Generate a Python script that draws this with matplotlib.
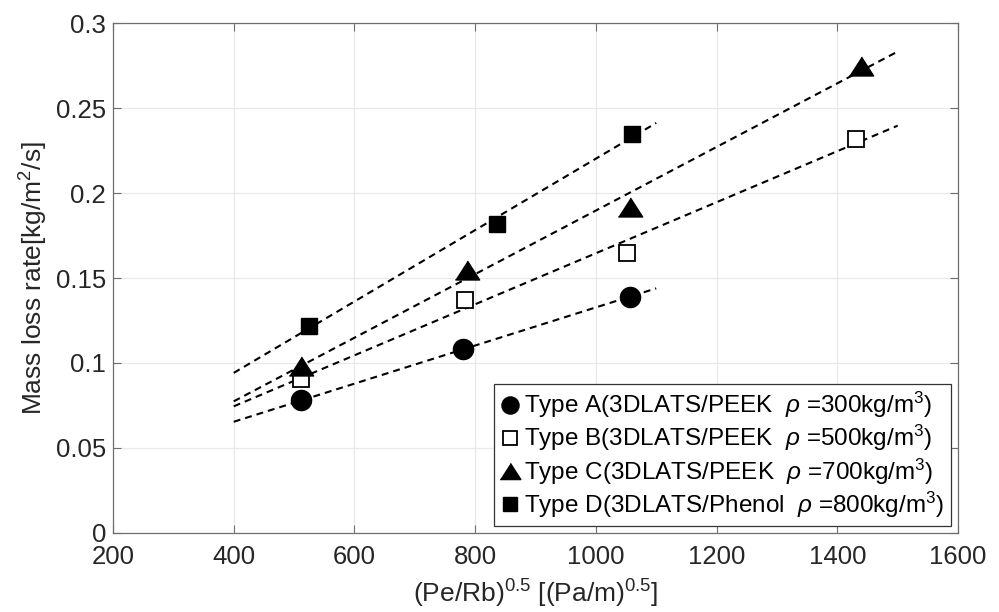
import numpy as np
import matplotlib
matplotlib.use("Agg")
import matplotlib.pyplot as plt

# ---- data ----
xA = [512, 780, 1056]
yA = [0.078, 0.108, 0.139]
xB = [511, 783, 1051, 1431]
yB = [0.0906, 0.137, 0.165, 0.232]
xC = [512, 786, 1056, 1439]
yC = [0.098, 0.155, 0.192, 0.275]
xD = [525, 836, 1060]
yD = [0.122, 0.182, 0.235]

fit_range_A = [400, 1100]
fit_range_B = [400, 1500]
fit_range_C = [400, 1500]
fit_range_D = [400, 1100]

labels = [
    r"Type A(3DLATS/PEEK  $\rho$ =300kg/m$^3$)",
    r"Type B(3DLATS/PEEK  $\rho$ =500kg/m$^3$)",
    r"Type C(3DLATS/PEEK  $\rho$ =700kg/m$^3$)",
    r"Type D(3DLATS/Phenol  $\rho$ =800kg/m$^3$)",
]
xticks = [200, 400, 600, 800, 1000, 1200, 1400, 1600]
yticks = [0, 0.05, 0.1, 0.15, 0.2, 0.25, 0.3]
yticklabels = ["0", "0.05", "0.1", "0.15", "0.2", "0.25", "0.3"]

plt.rcParams['font.family'] = ['Liberation Sans', 'DejaVu Sans']
plt.rcParams['mathtext.fontset'] = 'custom'
plt.rcParams['mathtext.rm'] = 'Liberation Sans'
plt.rcParams['mathtext.it'] = 'Liberation Sans:italic'
plt.rcParams['lines.scale_dashes'] = False

fig = plt.figure(figsize=(9.99, 6.12), dpi=100)
ax = fig.add_axes([0.1131, 0.1291, 0.959 - 0.1131, 0.9624 - 0.1291])

tri = [(-1, -0.78), (1, -0.78), (0, 0.78)]
series = [
    (xA, yA, fit_range_A, dict(marker='o', ms=14.5, mfc='black', mec='black')),
    (xB, yB, fit_range_B, dict(marker='s', ms=11.5, mfc='white', mec='black', mew=1.3)),
    (xC, yC, fit_range_C, dict(marker=tri, ms=17.5, mfc='black', mec='black')),
    (xD, yD, fit_range_D, dict(marker='s', ms=11.5, mfc='black', mec='black')),
]

handles = []
for (xs, ys, rng, mk), lab in zip(series, labels):
    p = np.polyfit(xs, ys, 1)
    xf = np.array(rng, dtype=float)
    ax.plot(xf, np.polyval(p, xf), color='black', lw=1.5, ls=(0, (5, 3.6)), zorder=2)
    h, = ax.plot(xs, ys, ls='none', zorder=3, label=lab, **mk)
    handles.append(h)

ax.set_xlim(200, 1600)
ax.set_ylim(0, 0.3)
ax.set_xticks(xticks)
ax.set_xticklabels([str(t) for t in xticks])
ax.set_yticks(yticks)
ax.set_yticklabels(yticklabels)
ax.grid(True, color='#e8e8e8', lw=0.9)
ax.set_axisbelow(True)
for s in ax.spines.values():
    s.set_color('#6e6e6e')
    s.set_linewidth(0.9)
ax.tick_params(direction='in', length=6, width=0.8, color='#6e6e6e',
               labelsize=18.5, labelcolor='#262626', top=True, right=True)
ax.tick_params(axis='x', pad=9)
ax.tick_params(axis='y', pad=5)

ax.set_ylabel(r"Mass loss rate[kg/m$^2$/s]", fontsize=19, color='#262626', labelpad=4)
ax.set_xlabel(r"(Pe/Rb)$^{0.5}$ [(Pa/m)$^{0.5}$]", fontsize=19, color='#262626', labelpad=6)

leg = ax.legend(handles=handles, loc='lower right', fontsize=17.5, frameon=True,
                fancybox=False, edgecolor='#333333', framealpha=1,
                handlelength=0.8, handletextpad=0.2, labelspacing=0.12,
                borderpad=0.25, borderaxespad=0.3, markerscale=0.85)
leg.get_frame().set_linewidth(0.9)

fig.savefig("out.png", dpi=100)
